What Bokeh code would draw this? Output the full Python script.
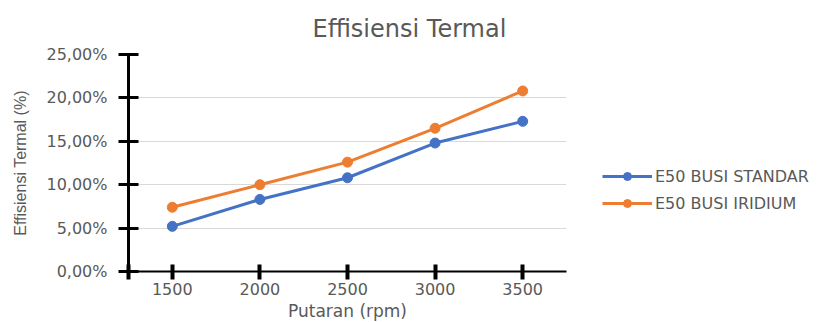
from bokeh.plotting import figure
from bokeh.models import Legend, LegendItem, FixedTicker, Title, Range1d
from bokeh.embed import file_html
from bokeh.resources import INLINE

# Engine speed (rpm) and thermal efficiency (%) for the two spark plug types
rpm = [1500, 2000, 2500, 3000, 3500]
busi_standar = [5.2, 8.3, 10.8, 14.8, 17.3]
busi_iridium = [7.4, 10.0, 12.6, 16.5, 20.8]
series_names = ["E50 BUSI STANDAR", "E50 BUSI IRIDIUM"]
y_ticks = [0, 5, 10, 15, 20, 25]

BLUE = "#4472C4"
ORANGE = "#ED7D31"
GRAY = "#595959"
FONT = "DejaVu Sans"

# category-style spacing: half a step of padding on each side of the rpm values
step = rpm[1] - rpm[0]
x_lo, x_hi = rpm[0] - step / 2, rpm[-1] + step / 2

p = figure(frame_width=438, frame_height=217, output_backend="svg",
           toolbar_location=None,
           x_range=Range1d(x_lo, x_hi), y_range=Range1d(y_ticks[0], y_ticks[-1]),
           min_border_left=128, min_border_right=260, min_border_top=53,
           min_border_bottom=52, title=None)
p.outline_line_color = None
p.background_fill_color = "white"
p.border_fill_color = "white"

title = Title(text="Effisiensi Termal", align="left", offset=184, standoff=24,
              text_font=FONT, text_font_size="24px", text_font_style="normal",
              text_color=GRAY)
p.add_layout(title, "above")

# grid
p.xgrid.visible = False
p.ygrid.ticker = FixedTicker(ticks=y_ticks)
p.ygrid.grid_line_color = "#D9D9D9"
p.ygrid.grid_line_width = 1

# y axis
ya = p.yaxis[0]
ya.ticker = FixedTicker(ticks=y_ticks)
ya.major_label_overrides = {t: f"{t:.2f}".replace(".", ",") + "%" for t in y_ticks}
ya.axis_line_color = "black"
ya.axis_line_width = 3
ya.major_tick_line_color = "black"
ya.major_tick_line_width = 3
ya.major_tick_in = 10
ya.major_tick_out = 10
ya.minor_tick_line_color = None
ya.major_label_standoff = 11
ya.major_label_text_font = FONT
ya.major_label_text_font_size = "16px"
ya.major_label_text_color = GRAY
ya.axis_label = "Effisiensi Termal (%)"
ya.axis_label_text_font = "Liberation Sans"
ya.axis_label_text_font_size = "16px"
ya.axis_label_text_font_style = "normal"
ya.axis_label_text_color = GRAY
ya.axis_label_standoff = 14

# x axis
xa = p.xaxis[0]
x_ticks = [x_lo] + rpm
xa.ticker = FixedTicker(ticks=x_ticks)
xa.major_label_overrides = {x_lo: ""}
xa.axis_line_color = "black"
xa.axis_line_width = 2
xa.major_tick_line_color = "black"
xa.major_tick_line_width = 4
xa.major_tick_in = 7
xa.major_tick_out = 8
xa.minor_tick_line_color = None
xa.major_label_standoff = 3
xa.major_label_text_font = FONT
xa.major_label_text_font_size = "16px"
xa.major_label_text_color = GRAY
xa.axis_label = "Putaran (rpm)"
xa.axis_label_text_font = FONT
xa.axis_label_text_font_size = "17px"
xa.axis_label_text_font_style = "normal"
xa.axis_label_text_color = GRAY
xa.axis_label_standoff = 3

items = []
for name, vals, color in zip(series_names, [busi_standar, busi_iridium], [BLUE, ORANGE]):
    ln = p.line(rpm, vals, line_color=color, line_width=3)
    sc = p.scatter(rpm, vals, marker="circle", size=10, fill_color=color,
                   line_color=color)
    items.append(LegendItem(label=name, renderers=[ln, sc]))

legend = Legend(items=items, location=(36, 58), orientation="vertical",
                glyph_width=50, glyph_height=20, label_height=20, spacing=7,
                padding=0, margin=0, label_standoff=3,
                label_text_font=FONT, label_text_font_size="16px",
                label_text_color=GRAY, background_fill_alpha=0,
                border_line_color=None)
p.add_layout(legend, "right")

open("out.html", "w").write(file_html(p, INLINE))
